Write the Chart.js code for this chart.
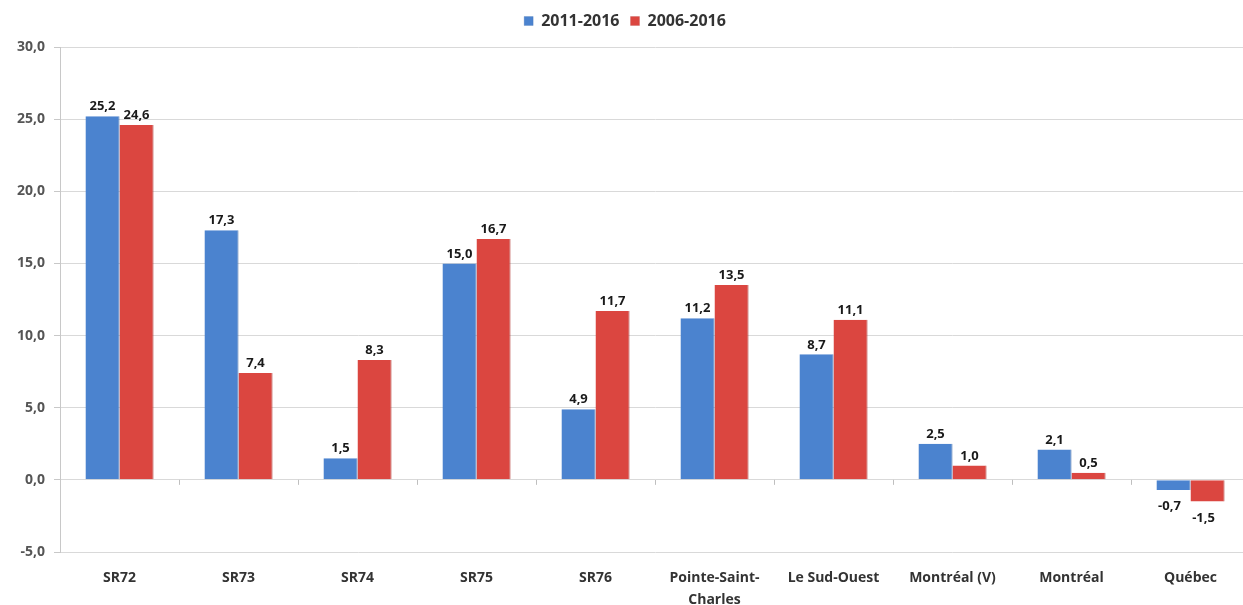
<!DOCTYPE html>
<html>
<head>
<meta charset="utf-8">
<script src="https://cdn.jsdelivr.net/npm/chart.js@4"></script>
<style>
  html, body { margin: 0; padding: 0; background: #ffffff; overflow: hidden; }
  #wrap { width: 1252px; height: 605px; }
</style>
</head>
<body>
<div id="wrap"><canvas id="c" width="1252" height="605"></canvas></div>
<script>
// Categories and series values
const categories = ['SR72', 'SR73', 'SR74', 'SR75', 'SR76', ['Pointe-Saint-', 'Charles'], 'Le Sud-Ouest', 'Montréal (V)', 'Montréal', 'Québec'];
const series2011 = [25.2, 17.3, 1.5, 15.0, 4.9, 11.2, 8.7, 2.5, 2.1, -0.7];
const series2006 = [24.6, 7.4, 8.3, 16.7, 11.7, 13.5, 11.1, 1.0, 0.5, -1.5];
const seriesNames = ['2011-2016', '2006-2016'];
const yMin = -5, yMax = 30, yStep = 5;

const fmt = v => v.toFixed(1).replace('.', ',');
const FONT = '"Open Sans", Lato, sans-serif';

// Value labels above positive bars and below negative ones
const valueLabels = {
  id: 'valueLabels',
  afterDatasetsDraw(chart) {
    const ctx = chart.ctx;
    ctx.save();
    ctx.font = 'bold 13px ' + FONT;
    ctx.fillStyle = '#1a1a1a';
    ctx.textAlign = 'center';
    chart.data.datasets.forEach((ds, di) => {
      const meta = chart.getDatasetMeta(di);
      meta.data.forEach((bar, i) => {
        const v = ds.data[i];
        if (v >= 0) {
          ctx.textBaseline = 'bottom';
          ctx.fillText(fmt(v), bar.x, bar.y - 3);
        } else {
          ctx.textBaseline = 'top';
          ctx.fillText(fmt(v), bar.x - 4, bar.y + 10);
        }
      });
    });
    ctx.restore();
  }
};

// Small tick marks on the zero line between categories
const zeroTicks = {
  id: 'zeroTicks',
  afterDatasetsDraw(chart) {
    const ctx = chart.ctx, xs = chart.scales.x, ys = chart.scales.y;
    const y0 = ys.getPixelForValue(0);
    ctx.save();
    ctx.strokeStyle = '#bfbfbf';
    ctx.lineWidth = 1;
    for (let i = 1; i < categories.length; i++) {
      const x = Math.round((xs.getPixelForValue(i - 1) + xs.getPixelForValue(i)) / 2) + 0.5;
      ctx.beginPath();
      ctx.moveTo(x, y0);
      ctx.lineTo(x, y0 + 5);
      ctx.stroke();
    }
    ctx.restore();
  }
};

// Extra room under the legend
const legendGap = {
  id: 'legendGap',
  beforeInit(chart) {
    const origFit = chart.legend.fit;
    chart.legend.fit = function () {
      origFit.bind(this)();
      this.height += 8;
    };
  }
};

new Chart(document.getElementById('c'), {
  type: 'bar',
  data: {
    labels: categories,
    datasets: [
      { label: seriesNames[0], data: series2011, backgroundColor: '#4b83cf', borderColor: '#3d6aa8', borderWidth: { right: 1 } },
      { label: seriesNames[1], data: series2006, backgroundColor: '#db4640', borderColor: '#b0342f', borderWidth: { right: 1 } }
    ]
  },
  options: {
    responsive: false,
    animation: false,
    layout: { padding: { left: 0, right: 2, top: 2, bottom: 0 } },
    datasets: { bar: { categoryPercentage: 0.572, barPercentage: 1.0 } },
    plugins: {
      legend: {
        position: 'top',
        labels: {
          boxWidth: 9, boxHeight: 9, padding: 11,
          color: '#333333',
          font: { family: FONT, size: 16, weight: 'bold' }
        }
      },
      tooltip: { enabled: false }
    },
    scales: {
      x: {
        afterFit: s => { s.height = 53; },
        grid: { display: false },
        border: { display: false },
        ticks: { color: '#333333', font: { family: FONT, size: 14, weight: 'bold', lineHeight: 1.55 }, padding: 7, maxRotation: 0, autoSkip: false }
      },
      y: {
        afterFit: s => { s.width = 60; },
        min: yMin, max: yMax,
        grid: { color: '#d9d9d9', tickLength: 6, tickColor: '#c8c8c8' },
        border: { display: true, color: '#c8c8c8' },
        ticks: { stepSize: yStep, color: '#555555', font: { family: FONT, size: 14, weight: 'bold' }, padding: 9, callback: v => fmt(v) }
      }
    }
  },
  plugins: [valueLabels, zeroTicks, legendGap]
});
</script>
</body>
</html>
